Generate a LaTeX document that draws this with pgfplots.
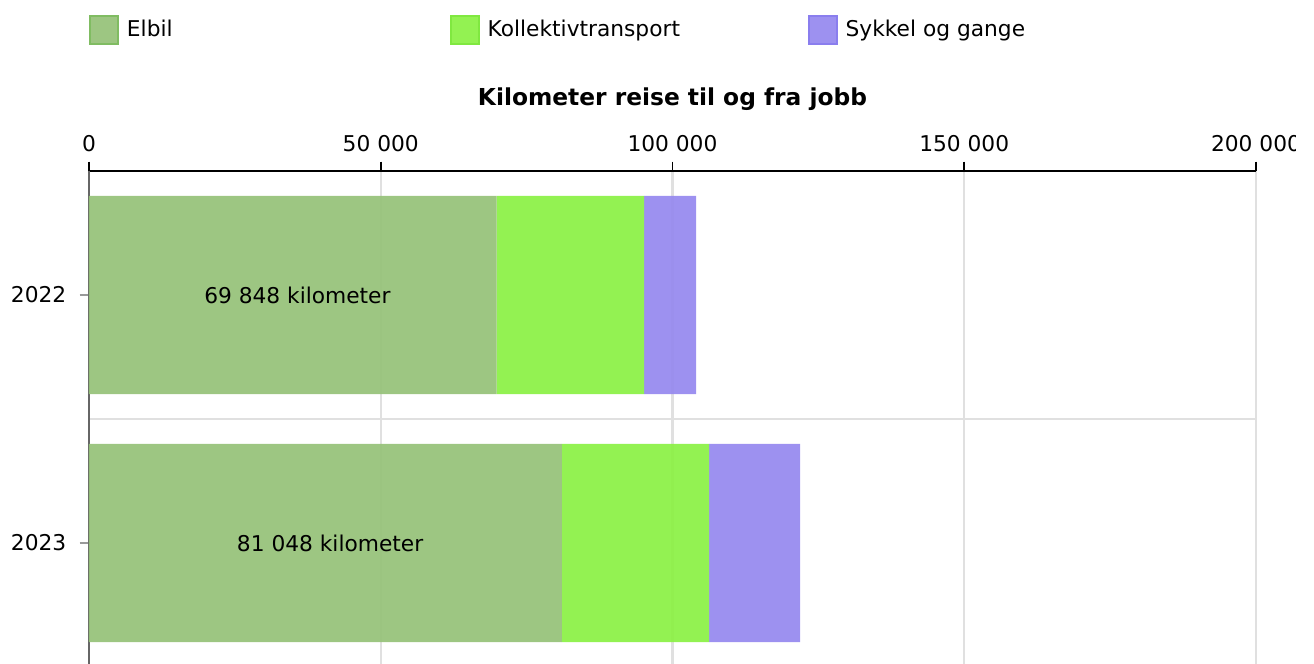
\documentclass[border=0pt]{standalone}
\usepackage{pgfplots}
\pgfplotsset{compat=1.18}
\usepackage{fontspec}
\setmainfont{DejaVu Sans}

\definecolor{elbil}{RGB}{150,194,121}
\definecolor{elbilB}{RGB}{128,188,98}
\definecolor{koll}{RGB}{139,241,69}
\definecolor{kollB}{RGB}{128,232,64}
\definecolor{sykkel}{RGB}{150,137,239}
\definecolor{sykkelB}{RGB}{138,126,238}

\begin{document}
\begin{tikzpicture}[font=\fontsize{16.3}{19.5}\selectfont]
\begin{scope}
\clip (0pt,0pt) rectangle (971.25pt,498pt);
\begin{axis}[
    at={(66.75pt,-2.25pt)}, anchor=south west,
    scale only axis,
    width=875.25pt, height=372pt,
    xbar stacked, bar width=0.8,
    xmin=0, xmax=200000, ymin=-0.5, ymax=1.5,
    axis x line*=top, axis y line*=left,
    x axis line style={black, line width=1.5pt},
    y axis line style={black!60, line width=1.5pt},
    xtick={0,50000,100000,150000,200000},
    xticklabels={0, 50 000, 100 000, 150 000, 200 000},
    scaled x ticks=false,
    ytick={0,1}, yticklabels={2023,2022},
    minor ytick={0.5},
    xmajorgrids, yminorgrids,
    grid style={black!12, line width=1.7pt},
    minor grid style={black!12, line width=1.7pt},
    tick align=outside, major tick length=7pt, minor tick length=0pt,
    xtick style={black, line width=1.2pt},
    ytick style={black!40, line width=1.2pt},
    xticklabel style={yshift=4pt},
    yticklabel style={xshift=-6.5pt},
    title={\fontsize{17.5}{21}\selectfont\bfseries Kilometer reise til og fra jobb},
    title style={at={(axis description cs:0.5,1)}, anchor=base, yshift=43pt},
    legend columns=3,
    legend cell align=left,
    legend style={at={(axis description cs:0,1)}, anchor=west, yshift=106pt,
        draw=none, fill=none, inner sep=0pt, outer sep=0pt,
        nodes={inner sep=0pt},
        /tikz/every odd column/.append style={column sep=6pt}},
]
% Elbil
\addplot[fill=elbil, fill opacity=0.93, draw=none,
    point meta=explicit symbolic, nodes near coords,
    every node near coord/.append style={anchor=center, text=black,
        text opacity=1, xshift=3.5pt},
    legend image code/.code={\draw[fill=elbil, fill opacity=0.93, draw=elbilB, line width=1.5pt]
        (0.75pt,-10.5pt) rectangle (21.75pt,10.5pt);}]
    coordinates {(69848,1) [69 848 kilometer] (81048,0) [81 048 kilometer]};
\addlegendentry{\makebox[242pt][l]{Elbil}}
% Kollektivtransport
\addplot[fill=koll, fill opacity=0.93, draw=none,
    legend image code/.code={\draw[fill=koll, fill opacity=0.93, draw=kollB, line width=1.5pt]
        (0.75pt,-10.5pt) rectangle (21.75pt,10.5pt);}]
    coordinates {(25270,1) (25210,0)};
\addlegendentry{\makebox[240pt][l]{Kollektivtransport}}
% Sykkel og gange
\addplot[fill=sykkel, fill opacity=0.93, draw=none,
    legend image code/.code={\draw[fill=sykkel, fill opacity=0.93, draw=sykkelB, line width=1.5pt]
        (0.75pt,-10.5pt) rectangle (21.75pt,10.5pt);}]
    coordinates {(8910,1) (15600,0)};
\addlegendentry{Sykkel og gange}
\end{axis}
\end{scope}
\pgfresetboundingbox
\path[use as bounding box] (0,0) rectangle (985.5pt,498pt);
\end{tikzpicture}
\end{document}
